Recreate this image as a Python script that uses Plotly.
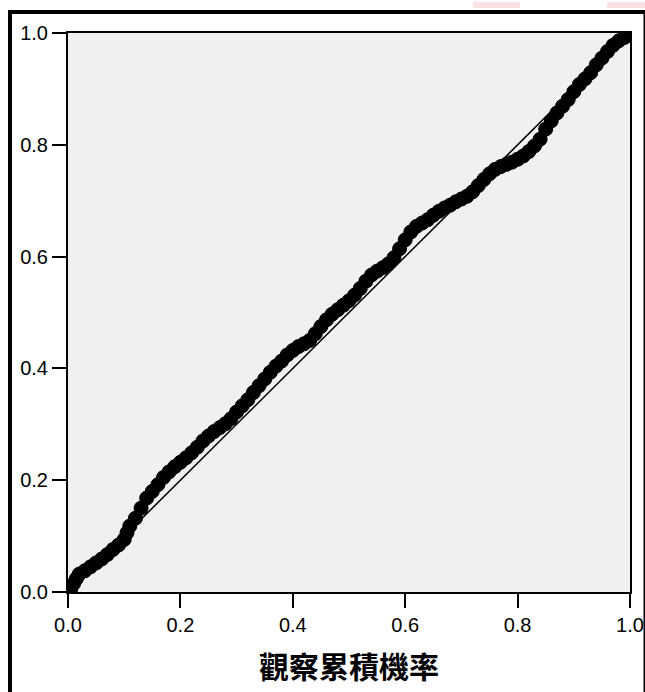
import plotly.graph_objects as go

# Observed cumulative probability (x) vs expected cumulative probability (y)
observed = [0.005, 0.010, 0.015, 0.020, 0.030, 0.040, 0.050, 0.060, 0.070, 0.080,
            0.090, 0.100, 0.105, 0.110, 0.120, 0.130, 0.140, 0.150, 0.160, 0.170,
            0.180, 0.190, 0.200, 0.210, 0.220, 0.230, 0.240, 0.250, 0.260, 0.270,
            0.280, 0.290, 0.300, 0.310, 0.320, 0.330, 0.340, 0.350, 0.360, 0.370,
            0.380, 0.390, 0.400, 0.410, 0.420, 0.430, 0.440, 0.450, 0.460, 0.470,
            0.480, 0.490, 0.500, 0.510, 0.520, 0.530, 0.540, 0.550, 0.560, 0.570,
            0.580, 0.590, 0.600, 0.610, 0.620, 0.630, 0.640, 0.650, 0.660, 0.670,
            0.680, 0.690, 0.700, 0.710, 0.720, 0.730, 0.740, 0.750, 0.760, 0.770,
            0.780, 0.790, 0.800, 0.810, 0.820, 0.830, 0.840, 0.850, 0.860, 0.870,
            0.880, 0.890, 0.900, 0.910, 0.920, 0.930, 0.940, 0.950, 0.960, 0.970,
            0.980, 0.990, 0.995, 1.000]
expected = [0.006, 0.015, 0.024, 0.032, 0.038, 0.045, 0.052, 0.059, 0.067, 0.076,
            0.084, 0.094, 0.106, 0.118, 0.132, 0.150, 0.168, 0.180, 0.192, 0.205,
            0.215, 0.224, 0.232, 0.240, 0.249, 0.259, 0.270, 0.279, 0.287, 0.294,
            0.301, 0.310, 0.322, 0.333, 0.344, 0.357, 0.369, 0.381, 0.393, 0.404,
            0.413, 0.424, 0.432, 0.439, 0.444, 0.450, 0.462, 0.475, 0.487, 0.497,
            0.505, 0.513, 0.521, 0.531, 0.543, 0.556, 0.567, 0.574, 0.580, 0.587,
            0.598, 0.614, 0.630, 0.644, 0.654, 0.660, 0.666, 0.674, 0.681, 0.687,
            0.692, 0.698, 0.703, 0.708, 0.716, 0.727, 0.738, 0.748, 0.756, 0.761,
            0.765, 0.769, 0.774, 0.780, 0.788, 0.798, 0.810, 0.828, 0.843, 0.857,
            0.869, 0.881, 0.895, 0.908, 0.918, 0.929, 0.943, 0.955, 0.967, 0.978,
            0.986, 0.992, 0.996, 1.000]

ref_line = [0.0, 1.0]
tick_vals = [0.0, 0.2, 0.4, 0.6, 0.8, 1.0]
tick_text = ["0.0", "0.2", "0.4", "0.6", "0.8", "1.0"]
x_title = "觀察累積機率"

fig = go.Figure()
fig.add_trace(go.Scatter(x=ref_line, y=ref_line, mode="lines",
                         line=dict(color="black", width=1.5),
                         hoverinfo="skip", showlegend=False))
fig.add_trace(go.Scatter(x=observed, y=expected, mode="markers",
                         marker=dict(symbol="circle", size=14, color="black",
                                     line=dict(color="black", width=1)),
                         showlegend=False))

axis_common = dict(
    range=[0, 1], tickvals=tick_vals, ticktext=tick_text,
    showgrid=False, zeroline=False, automargin=False,
    showline=True, linecolor="black", linewidth=2, mirror=True,
    ticks="outside", tickcolor="black", tickwidth=2, ticklen=14,
    tickfont=dict(family="Liberation Sans, Arial, sans-serif", size=20, color="black"),
)

fig.update_xaxes(**axis_common,
                 title=dict(text=x_title, standoff=22,
                            font=dict(family="Noto Sans CJK TC, sans-serif", size=30,
                                      color="black", weight="bold")))
fig.update_yaxes(**axis_common)

W, H = 645, 692
L, R, T, B = 68, 15, 33, 100
pw, ph = W - L - R, H - T - B


def px(xp):
    return (xp - L) / pw


def py(yp):
    return (H - B - yp) / ph


shapes = [
    # outer frame
    dict(type="rect", xref="paper", yref="paper",
         x0=px(10), x1=px(645.5), y0=py(720), y1=py(12),
         line=dict(color="black", width=4), fillcolor="rgba(0,0,0,0)", layer="above"),
    # faint pink marks at top edge
    dict(type="rect", xref="paper", yref="paper",
         x0=px(473), x1=px(520), y0=py(8), y1=py(2),
         line=dict(width=0), fillcolor="rgba(245,190,200,0.45)"),
    dict(type="rect", xref="paper", yref="paper",
         x0=px(607), x1=px(645), y0=py(8), y1=py(2),
         line=dict(width=0), fillcolor="rgba(245,190,200,0.45)"),
]

fig.update_layout(
    width=W, height=H,
    margin=dict(l=L, r=R, t=T, b=B, autoexpand=False),
    paper_bgcolor="white", plot_bgcolor="#f0f0f0",
    shapes=shapes, showlegend=False,
)

# remove the default page margin so the figure fills the 645x692 window exactly
fig.write_html("out.html",
               config={"displayModeBar": False},
               post_script="document.body.style.margin='0';"
                           "document.body.style.overflow='hidden';")
